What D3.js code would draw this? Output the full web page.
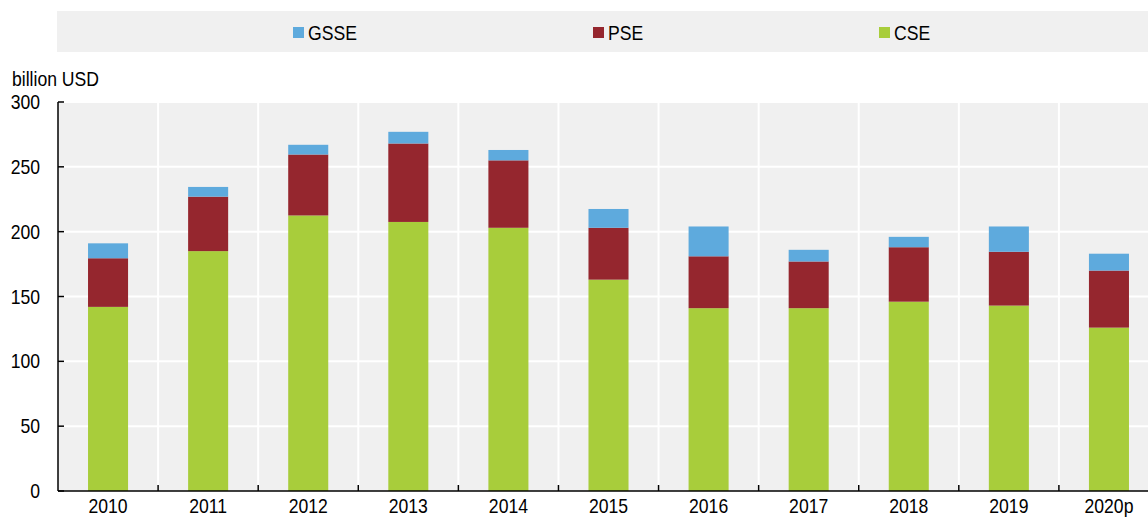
<!DOCTYPE html>
<html>
<head>
<meta charset="utf-8">
<script src="https://cdn.jsdelivr.net/npm/d3@7"></script>
<style>
  body { margin: 0; background: #fff; }
  text { font-family: "Liberation Sans", Arial, sans-serif; font-size: 20px; fill: #000; }
</style>
</head>
<body>
<svg id="chart"></svg>
<script>
// Data (billion USD)
var years = ["2010", "2011", "2012", "2013", "2014", "2015", "2016", "2017", "2018", "2019", "2020p"];
var cse  = [142, 185, 212.5, 207.5, 203, 163, 141, 141, 146, 143, 126];
var pse  = [37.5, 42, 47, 60.5, 52, 40, 40, 36, 42, 41.5, 44];
var gsse = [11.5, 7.5, 7.5, 9, 8, 14.5, 23, 9, 8, 19.5, 13];
var yTicks = [0, 50, 100, 150, 200, 250, 300];

var keys = ["CSE", "PSE", "GSSE"];
var legendKeys = ["GSSE", "PSE", "CSE"];

var rows = years.map(function(y, i) {
  return { year: y, CSE: cse[i], PSE: pse[i], GSSE: gsse[i] };
});

var width = 1148, height = 517;
var plot = { left: 58, right: 1159, top: 102, bottom: 491 };
var squeeze = 0.88; // narrow look of the original font

// place text condensed horizontally
function at(x, y) {
  return "translate(" + x + "," + y + ") scale(" + squeeze + ",1)";
}

var svg = d3.select("#chart")
  .attr("width", width)
  .attr("height", height);

var colorScale = d3.scaleOrdinal()
  .domain(keys)
  .range(["#a8cd3b", "#95262e", "#5eaadd"]);

// Scales
var xScale = d3.scaleBand()
  .domain(years)
  .range([plot.left, plot.right])
  .paddingInner(0.6)
  .paddingOuter(0.3);

var yScale = d3.scaleLinear()
  .domain([0, 300])
  .range([plot.bottom, plot.top]);

// Legend box
svg.append("rect")
  .attr("x", 57)
  .attr("y", 11)
  .attr("width", width - 57)
  .attr("height", 41)
  .style("fill", "#f0f0f0");

var legendX = d3.scaleOrdinal()
  .domain(legendKeys)
  .range([293, 593, 879]);

var legend = svg.selectAll(".legend")
  .data(legendKeys)
  .enter().append("g")
  .attr("class", "legend")
  .attr("transform", function(d) { return "translate(" + legendX(d) + ",27)"; });

legend.append("rect")
  .attr("width", 11)
  .attr("height", 11)
  .style("fill", colorScale);

legend.append("text")
  .attr("transform", at(15, 5.5))
  .attr("dy", "0.35em")
  .text(function(d) { return d; });

// Plot background
svg.append("rect")
  .attr("x", plot.left)
  .attr("y", plot.top)
  .attr("width", plot.right - plot.left)
  .attr("height", plot.bottom - plot.top)
  .style("fill", "#f0f0f0");

// Horizontal gridlines
svg.selectAll(".hgrid")
  .data(yTicks.slice(1))
  .enter().append("line")
  .attr("class", "hgrid")
  .attr("x1", plot.left)
  .attr("x2", plot.right)
  .attr("y1", function(d) { return yScale(d); })
  .attr("y2", function(d) { return yScale(d); })
  .style("stroke", "#fff")
  .style("stroke-width", 2);

// Vertical gridlines between categories
var gap = (xScale.step() - xScale.bandwidth()) / 2;
var bounds = years.slice(1).map(function(d) { return xScale(d) - gap; });

svg.selectAll(".vgrid")
  .data(bounds)
  .enter().append("line")
  .attr("class", "vgrid")
  .attr("x1", function(d) { return d; })
  .attr("x2", function(d) { return d; })
  .attr("y1", plot.top)
  .attr("y2", plot.bottom)
  .style("stroke", "#fff")
  .style("stroke-width", 2);

// Stacked bars
var series = d3.stack().keys(keys)(rows);

svg.selectAll(".series")
  .data(series)
  .enter().append("g")
  .attr("class", "series")
  .style("fill", function(d) { return colorScale(d.key); })
  .selectAll("rect")
  .data(function(d) { return d; })
  .enter().append("rect")
  .attr("x", function(d) { return xScale(d.data.year); })
  .attr("width", xScale.bandwidth())
  .attr("y", function(d) { return yScale(d[1]); })
  .attr("height", function(d) { return yScale(d[0]) - yScale(d[1]); });

// Axes lines
svg.append("line")
  .attr("x1", plot.left).attr("x2", plot.left)
  .attr("y1", plot.top).attr("y2", plot.bottom)
  .style("stroke", "#000").style("stroke-width", 1.5);

svg.append("line")
  .attr("x1", plot.left).attr("x2", width)
  .attr("y1", plot.bottom).attr("y2", plot.bottom)
  .style("stroke", "#000").style("stroke-width", 1.5);

// Y ticks (inward) and labels
svg.selectAll(".ytick")
  .data(yTicks)
  .enter().append("line")
  .attr("class", "ytick")
  .attr("x1", plot.left)
  .attr("x2", plot.left + 6)
  .attr("y1", function(d) { return yScale(d); })
  .attr("y2", function(d) { return yScale(d); })
  .style("stroke", "#000").style("stroke-width", 1.5);

svg.selectAll(".ylabel")
  .data(yTicks)
  .enter().append("text")
  .attr("class", "ylabel")
  .attr("transform", function(d) { return at(40, yScale(d)); })
  .attr("dy", "0.35em")
  .style("text-anchor", "end")
  .text(function(d) { return d; });

// X ticks (inward) at category boundaries
svg.selectAll(".xtick")
  .data(bounds)
  .enter().append("line")
  .attr("class", "xtick")
  .attr("x1", function(d) { return d; })
  .attr("x2", function(d) { return d; })
  .attr("y1", plot.bottom)
  .attr("y2", plot.bottom - 6)
  .style("stroke", "#000").style("stroke-width", 1.5);

svg.selectAll(".xlabel")
  .data(years)
  .enter().append("text")
  .attr("class", "xlabel")
  .attr("transform", function(d) { return at(xScale(d) + xScale.bandwidth() / 2, 513); })
  .style("text-anchor", "middle")
  .text(function(d) { return d; });

// Unit label
svg.append("text")
  .attr("transform", at(12, 86))
  .text("billion USD");
</script>
</body>
</html>
